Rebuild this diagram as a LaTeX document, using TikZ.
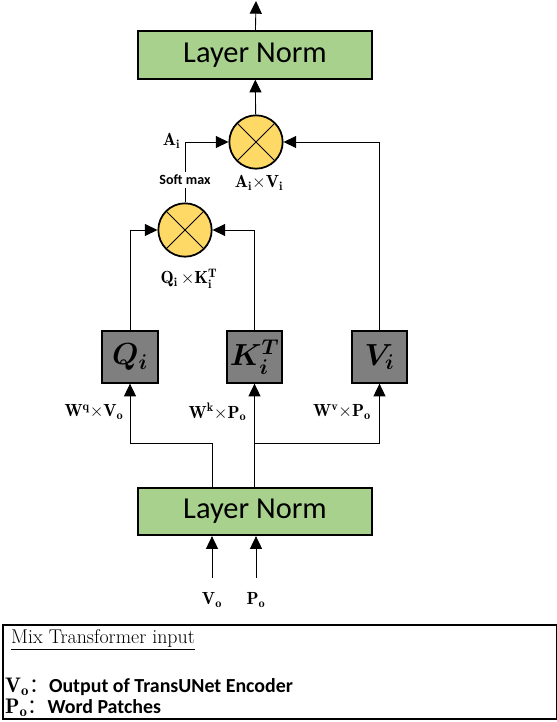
\RequirePackage{fix-cm}
\documentclass[tikz,border=0pt]{standalone}
\usepackage{amsmath}
\usepackage{bm}
\usepackage{fontspec}
\usepackage{tikz}
\usetikzlibrary{arrows.meta, positioning}
\newfontfamily\carlito{Carlito}
\newfontfamily\cjk{Noto Sans CJK SC}
\definecolor{normgreen}{RGB}{169,209,142}
\definecolor{multyellow}{RGB}{255,217,102}
\definecolor{headgray}{RGB}{127,127,127}

\begin{document}
\begin{tikzpicture}[
    x=0.03cm, y=-0.03cm,
    normbox/.style={
        rectangle, draw, line width=1.7pt, fill=normgreen,
        minimum width=7cm, minimum height=1.42cm,
        font=\carlito\fontsize{26}{30}\selectfont
    },
    mult/.style={
        circle, draw, line width=1.5pt, fill=multyellow,
        minimum size=1.6cm, inner sep=0pt,
        path picture={
            \draw[line width=0.8pt] (path picture bounding box.north west) -- (path picture bounding box.south east);
            \draw[line width=0.8pt] (path picture bounding box.north east) -- (path picture bounding box.south west);
        }
    },
    headbox/.style={
        rectangle, draw, line width=1.7pt, fill=headgray,
        minimum width=1.66cm, minimum height=1.54cm, inner sep=0pt,
        font=\fontsize{26}{30}\selectfont
    },
    lbl/.style={font=\fontsize{15}{18}\selectfont, inner sep=1pt},
    arrow/.style={-{Triangle[length=0.38cm, width=0.36cm]}, line width=0.75pt}
]
\useasboundingbox (0,0) rectangle (557,722);

% Main vertical blocks
\node[normbox] (lntop) at (255,55) {Layer Norm};
\node[mult] (av) at (256,142) {};
\node[mult] (qk) at (185,230) {};
\node[normbox] (lnbot) at (255,511.5) {Layer Norm};

% Q, K, V heads
\node[headbox] (q) at (130,357) {$\bm{Q_i}$};
\node[headbox] (k) at (254.5,357) {$\bm{K_i^T}$};
\node[headbox] (v) at (379.5,357) {$\bm{V_i}$};

% Labels
\node[font=\carlito\bfseries\fontsize{12}{14}\selectfont, inner sep=2pt] (softmax) at (185,180) {Soft max};
\coordinate (acorner) at (185,142);
\node[lbl, left=3pt of acorner, yshift=1pt] (alabel) {$\mathbf{A_i}$};
\node[lbl] (avlabel) at (259,183) {$\mathbf{A_i{\times}V_i}$};
\node[lbl] (qklabel) at (189,279) {$\mathbf{Q_i\,{\times}K_i^T}$};
\node[lbl] (wq) at (94,412) {$\mathbf{W^q{\times}V_o}$};
\node[lbl] (wk) at (217.5,412) {$\mathbf{W^k{\times}P_o}$};
\node[lbl] (wv) at (342,412) {$\mathbf{W^v{\times}P_o}$};
\node[lbl] (vo) at (212,600) {$\mathbf{V_o}$};
\node[lbl] (po) at (256,600) {$\mathbf{P_o}$};

\coordinate (out) at (256,1);
\coordinate (qturn) at (212,443);
\coordinate (vstart) at (212,578);
\coordinate (pstart) at (256,578);

% Main arrows
\draw[arrow] (lntop) -- (out);
\draw[arrow] (av) -- (lntop);
\draw[line width=0.75pt] (qk) -- (softmax);
\draw[arrow] (softmax) |- (av.west);
\draw[arrow] (q.north) |- (qk.west);
\draw[arrow] (k.north) |- (qk.east);
\draw[arrow] (v.north) |- (av.east);

% Input arrows
\draw[arrow] (lnbot.north -| qturn) -- (qturn) -| (q.south);
\draw[arrow] (lnbot.north -| k) -- (k.south);
\draw[arrow] (k |- qturn) -| (v.south);
\draw[arrow] (vstart) -- (vstart |- lnbot.south);
\draw[arrow] (pstart) -- (pstart |- lnbot.south);

% Legend
\draw[line width=1.3pt] (3,625) rectangle (557,719);
\node[anchor=base west, inner sep=0pt, font=\fontsize{17}{20}\selectfont] (legtitle) at (11,643) {\underline{Mix Transformer input}};
\node[anchor=base west, inner sep=0pt, font=\fontsize{17}{20}\selectfont] (legvo) at (5,692) {{\fontsize{18}{20}\selectfont$\mathbf{V_o}$}{\cjk ：}{\carlito\bfseries Output of TransUNet Encoder}};
\node[anchor=base west, inner sep=0pt, font=\fontsize{17}{20}\selectfont] (legpo) at (5,713) {{\fontsize{18}{20}\selectfont$\mathbf{P_o}$}{\cjk ：}{\carlito\bfseries Word Patches}};

\end{tikzpicture}
\end{document}
